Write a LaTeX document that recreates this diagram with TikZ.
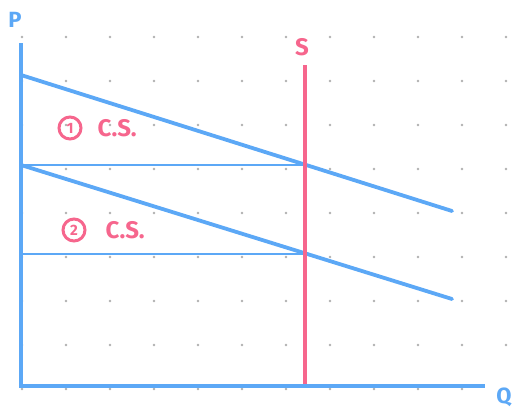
\documentclass[tikz,border=0pt]{standalone}
\usepackage{fontspec}
\setmainfont{Fira Sans}
\usetikzlibrary{positioning,calc}
\definecolor{curveblue}{RGB}{92,168,246}
\definecolor{supplypink}{RGB}{246,102,141}
\definecolor{dotgray}{RGB}{175,175,175}

\begin{document}
\begin{tikzpicture}[
  x=1pt, y=-1pt,
  axis/.style={draw=curveblue, line width=4pt},
  demand/.style={draw=curveblue, line width=3.8pt, line cap=round},
  level/.style={draw=curveblue, line width=1.8pt},
  supply/.style={draw=supplypink, line width=3.6pt},
  axlabel/.style={text=curveblue, font=\fontsize{22}{22}\selectfont\bfseries, inner sep=0pt},
  cslabel/.style={text=supplypink, font=\fontsize{24}{24}\selectfont\bfseries, inner sep=0pt},
  numcircle/.style={draw=supplypink, line width=3pt, circle, inner sep=0pt,
                    minimum size=22pt, text=supplypink,
                    font=\fontsize{15}{15}\selectfont\bfseries}
]
\useasboundingbox (0,0) rectangle (513,415);

% dotted background
\foreach \x in {22,66,...,506}
  \foreach \y in {37,81,...,389}
    \fill[dotgray] (\x,\y) circle (1.4);

\coordinate (origin) at (21,386);
\coordinate (ytop) at (21,43);
\coordinate (xend) at (485,386);
\coordinate (d1start) at (21,75);
\coordinate (d1end) at (452,211);
\coordinate (d2start) at (21,165);
\coordinate (d2end) at (452,299);
\coordinate (stop) at (305,65);
\coordinate (sbot) at (305,386);
\coordinate (eq1) at (305,165);
\coordinate (eq2) at (305,254);
\coordinate (p2) at (21,254);

\node[axlabel] (plabel) at (15,20) {P};
\node[axlabel] (qlabel) at (504,397) {Q};
\node[cslabel] (slabel) at (302,47) {S};

\node[numcircle] (one) at (70,128) {1};
\node[cslabel, right=15pt of one] (cs1) {C.S.};
\node[numcircle] (two) at (74,230) {2};
\node[cslabel, right=19pt of two] (cs2) {C.S.};

\draw[level] (d2start) -- (eq1);
\draw[level] (p2) -- (eq2);
\draw[demand] (d1start) -- (d1end);
\draw[demand] (d2start) -- (d2end);
\draw[supply] (stop) -- (sbot);
\draw[axis] (ytop) -- (origin) -- (xend);
\end{tikzpicture}
\end{document}
